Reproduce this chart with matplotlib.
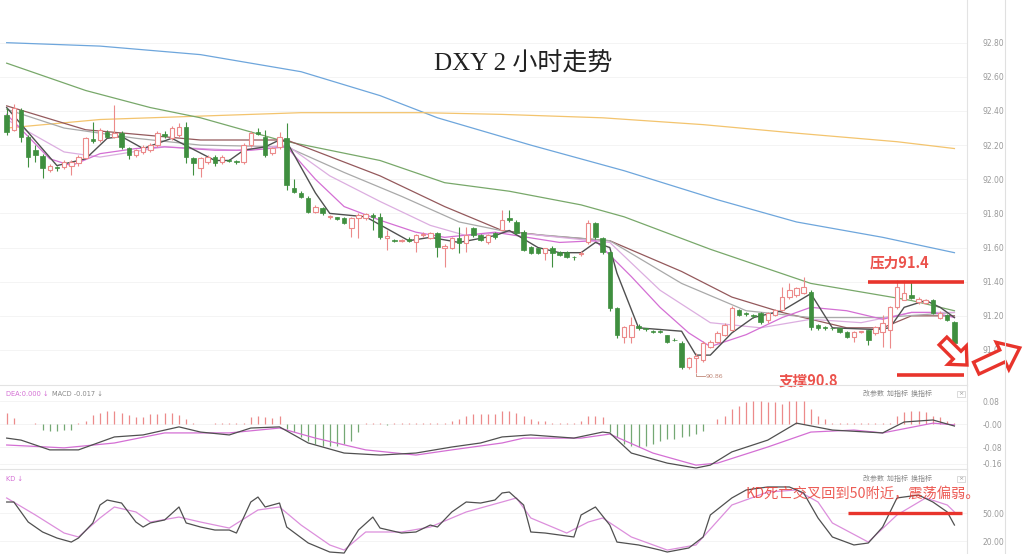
import numpy as np
import matplotlib
matplotlib.use("Agg")
import matplotlib.pyplot as plt
from matplotlib.patches import Polygon
from matplotlib.lines import Line2D

plt.rcParams['font.family'] = ['DejaVu Sans', 'Noto Sans CJK SC']

# ---- 2h candles ----
opens = [92.377, 92.289, 92.406, 92.248, 92.172, 92.136, 92.054, 92.072, 92.072, 92.078,
         92.095, 92.125, 92.236, 92.230, 92.277, 92.248, 92.271, 92.183, 92.142, 92.160,
         92.172, 92.201, 92.265, 92.242, 92.259, 92.306, 92.125, 92.066, 92.101, 92.131,
         92.101, 92.113, 92.107, 92.101, 92.201, 92.277, 92.248, 92.154, 92.189, 92.242,
         91.949, 91.920, 91.890, 91.808, 91.832, 91.779, 91.779, 91.773, 91.715, 91.773,
         91.773, 91.791, 91.779, 91.656, 91.644, 91.639, 91.650, 91.633, 91.674, 91.656,
         91.685, 91.598, 91.598, 91.656, 91.627, 91.715, 91.674, 91.633, 91.685, 91.703,
         91.773, 91.750, 91.691, 91.603, 91.598, 91.568, 91.598, 91.574, 91.574, 91.545,
         91.562, 91.633, 91.744, 91.656, 91.574, 91.246, 91.076, 91.076, 91.141, 91.129,
         91.111, 91.111, 91.088, 91.059, 91.041, 90.900, 90.953, 90.941, 91.018, 91.047,
         91.088, 91.117, 91.234, 91.217, 91.205, 91.217, 91.176, 91.205, 91.234, 91.310,
         91.322, 91.334, 91.340, 91.146, 91.135, 91.129, 91.129, 91.105, 91.076, 91.105,
         91.117, 91.100, 91.105, 91.117, 91.252, 91.293, 91.322, 91.281, 91.275, 91.293,
         91.187, 91.205, 91.164]
closes = [92.277, 92.418, 92.248, 92.131, 92.142, 92.066, 92.078, 92.066, 92.101, 92.101,
          92.131, 92.242, 92.224, 92.289, 92.248, 92.271, 92.189, 92.142, 92.172, 92.189,
          92.201, 92.271, 92.254, 92.300, 92.306, 92.131, 92.095, 92.125, 92.131, 92.095,
          92.131, 92.107, 92.101, 92.201, 92.271, 92.265, 92.142, 92.183, 92.248, 91.967,
          91.926, 91.896, 91.808, 91.838, 91.803, 91.785, 91.767, 91.744, 91.773, 91.791,
          91.797, 91.779, 91.662, 91.668, 91.639, 91.644, 91.639, 91.674, 91.680, 91.685,
          91.603, 91.609, 91.656, 91.627, 91.674, 91.674, 91.644, 91.674, 91.662, 91.762,
          91.762, 91.685, 91.586, 91.568, 91.568, 91.598, 91.568, 91.557, 91.545, 91.542,
          91.568, 91.744, 91.662, 91.574, 91.246, 91.088, 91.135, 91.146, 91.129, 91.123,
          91.108, 91.105, 91.047, 91.056, 90.900, 90.953, 90.965, 91.041, 91.047, 91.100,
          91.146, 91.246, 91.205, 91.211, 91.200, 91.164, 91.217, 91.234, 91.310, 91.351,
          91.363, 91.369, 91.135, 91.129, 91.129, 91.126, 91.105, 91.076, 91.105, 91.108,
          91.059, 91.135, 91.158, 91.252, 91.369, 91.334, 91.305, 91.299, 91.293, 91.217,
          91.217, 91.176, 91.041]
highs = [92.42, 92.44, 92.42, 92.26, 92.20, 92.15, 92.09, 92.08, 92.11, 92.11,
         92.14, 92.25, 92.336, 92.30, 92.29, 92.435, 92.28, 92.19, 92.18, 92.20,
         92.21, 92.28, 92.28, 92.31, 92.33, 92.336, 92.13, 92.13, 92.14, 92.14,
         92.14, 92.12, 92.11, 92.21, 92.28, 92.30, 92.289, 92.19, 92.277, 92.33,
         92.00, 91.93, 91.90, 91.85, 91.84, 91.79, 91.78, 91.78, 91.78, 91.80,
         91.80, 91.80, 91.80, 91.70, 91.65, 91.65, 91.66, 91.68, 91.69, 91.69,
         91.69, 91.62, 91.66, 91.721, 91.721, 91.72, 91.68, 91.68, 91.69, 91.82,
         91.82, 91.76, 91.70, 91.61, 91.60, 91.60, 91.61, 91.58, 91.58, 91.55,
         91.58, 91.76, 91.75, 91.66, 91.58, 91.25, 91.14, 91.193, 91.15, 91.13,
         91.12, 91.12, 91.09, 91.07, 91.05, 90.96, 90.98, 91.05, 91.06, 91.11,
         91.16, 91.26, 91.24, 91.22, 91.21, 91.22, 91.22, 91.24, 91.369, 91.39,
         91.37, 91.427, 91.35, 91.15, 91.14, 91.13, 91.13, 91.11, 91.11, 91.11,
         91.12, 91.14, 91.205, 91.26, 91.41, 91.41, 91.398, 91.31, 91.30, 91.30,
         91.23, 91.21, 91.17]
lows = [92.26, 92.28, 92.218, 92.072, 92.10, 92.008, 92.04, 92.05, 92.06, 92.025,
        92.08, 92.12, 92.21, 92.22, 92.24, 92.24, 92.18, 92.12, 92.13, 92.15,
        92.16, 92.19, 92.24, 92.23, 92.25, 92.095, 92.025, 92.013, 92.09, 92.08,
        92.09, 92.10, 92.09, 92.09, 92.19, 92.26, 92.13, 92.14, 92.18, 91.937,
        91.92, 91.89, 91.80, 91.80, 91.79, 91.77, 91.76, 91.74, 91.662, 91.656,
        91.76, 91.703, 91.65, 91.586, 91.63, 91.63, 91.63, 91.574, 91.66, 91.65,
        91.545, 91.486, 91.59, 91.568, 91.574, 91.66, 91.64, 91.62, 91.65, 91.70,
        91.75, 91.68, 91.58, 91.56, 91.56, 91.527, 91.486, 91.55, 91.54, 91.53,
        91.55, 91.62, 91.65, 91.56, 91.23, 91.07, 91.041, 91.041, 91.12, 91.11,
        91.10, 91.10, 91.04, 91.05, 90.89, 90.89, 90.865, 90.93, 91.01, 91.04,
        91.08, 91.11, 91.20, 91.20, 91.19, 91.15, 91.16, 91.20, 91.23, 91.30,
        91.31, 91.33, 91.12, 91.12, 91.12, 91.12, 91.10, 91.07, 91.047, 91.10,
        91.029, 91.09, 91.018, 91.012, 91.24, 91.29, 91.30, 91.27, 91.27, 91.21,
        91.18, 91.17, 91.03]

# ---- moving averages, read at candle positions ----
ma_fast_i = [0, 7, 11, 14, 16, 19, 23, 29, 31, 33, 36, 38, 39, 43, 45, 50, 56, 59, 63, 68, 70, 74, 77, 80,
             82, 84, 85, 88, 94, 96, 98, 101, 104, 108, 112, 115, 121, 123, 125, 128, 130, 132]
ma_fast = [92.42, 92.08, 92.12, 92.24, 92.25, 92.18, 92.24, 92.11, 92.11, 92.17, 92.19, 92.23, 92.22, 91.92,
           91.80, 91.78, 91.64, 91.66, 91.63, 91.67, 91.70, 91.60, 91.57, 91.57, 91.63, 91.60, 91.45, 91.13,
           91.11, 90.97, 90.97, 91.10, 91.19, 91.23, 91.33, 91.13, 91.12, 91.13, 91.25, 91.29, 91.25, 91.19]
ma_mag_i = [0, 6, 9, 13, 18, 22, 29, 34, 39, 43, 47, 52, 57, 61, 68, 71, 77, 82, 87, 91, 95, 98, 103, 108,
            112, 117, 122, 126, 129, 132]
ma_mag = [92.38, 92.12, 92.08, 92.15, 92.18, 92.19, 92.17, 92.17, 92.19, 92.00, 91.84, 91.76, 91.69, 91.66,
          91.69, 91.67, 91.63, 91.64, 91.43, 91.25, 91.10, 91.02, 91.09, 91.19, 91.25, 91.23, 91.18, 91.22,
          91.22, 91.19]
ma_vio_i = [0, 8, 13, 22, 32, 39, 45, 52, 59, 64, 70, 77, 84, 91, 98, 105, 112, 119, 126, 132]
ma_vio = [92.35, 92.16, 92.13, 92.19, 92.17, 92.20, 92.02, 91.87, 91.73, 91.67, 91.69, 91.66, 91.63, 91.35,
          91.16, 91.13, 91.18, 91.16, 91.22, 91.22]
ma_gray_i = [0, 8, 18, 27, 39, 47, 55, 63, 70, 84, 94, 103, 112, 122, 132]
ma_gray = [92.41, 92.30, 92.24, 92.20, 92.19, 92.04, 91.90, 91.75, 91.69, 91.64, 91.39, 91.23, 91.19, 91.19,
           91.22]
ma_brown_i = [0, 11, 27, 39, 52, 61, 69, 75, 84, 94, 101, 108, 117, 122, 126, 132]
ma_brown = [92.43, 92.29, 92.23, 92.23, 92.02, 91.84, 91.70, 91.67, 91.64, 91.46, 91.31, 91.22, 91.13, 91.13,
            91.20, 91.20]
ma_green_i = [0, 11, 20, 27, 38, 52, 61, 70, 80, 86, 98, 112, 126, 132]
ma_green = [92.68, 92.52, 92.42, 92.36, 92.23, 92.11, 91.98, 91.93, 91.85, 91.78, 91.59, 91.39, 91.29, 91.23]
ma_blue_i = [0, 13, 27, 41, 52, 60, 73, 86, 99, 110, 122, 132]
ma_blue = [92.80, 92.78, 92.73, 92.63, 92.49, 92.36, 92.20, 92.05, 91.88, 91.75, 91.66, 91.57]
ma_orange_i = [0, 13, 27, 41, 58, 69, 83, 97, 110, 124, 132]
ma_orange = [92.30, 92.35, 92.37, 92.39, 92.39, 92.38, 92.36, 92.32, 92.27, 92.22, 92.18]

# ---- MACD ----
macd_hist = [0.04, 0.02, 0.0, 0.0, 0.003, -0.02, -0.025, -0.025, -0.02, -0.02,
             0.003, 0.01, 0.03, 0.04, 0.046, 0.046, 0.04, 0.03, 0.025, 0.025,
             0.035, 0.035, 0.04, 0.04, 0.03, 0.017, 0.003, 0.0, 0.0, 0.003,
             0.003, 0.003, 0.003, 0.003, 0.023, 0.029, 0.023, 0.02, 0.029, -0.017,
             -0.029, -0.046, -0.058, -0.07, -0.075, -0.075, -0.075, -0.07, -0.058, -0.029,
             0.005, 0.003, 0.005, -0.005, 0.003, 0.003, 0.003, 0.002, 0.002, 0.002,
             0.002, 0.003, 0.012, 0.017, 0.029, 0.035, 0.035, 0.035, 0.035, 0.046,
             0.046, 0.040, 0.029, 0.017, 0.012, 0.012, 0.002, 0.002, 0.002, 0.002,
             0.012, 0.029, 0.029, 0.023, -0.029, -0.046, -0.07, -0.075, -0.081, -0.075,
             -0.07, -0.058, -0.052, -0.052, -0.046, -0.041, -0.035, -0.023, 0.0, 0.017,
             0.029, 0.052, 0.064, 0.075, 0.081, 0.081, 0.075, 0.075, 0.07, 0.081,
             0.081, 0.081, 0.052, 0.029, 0.017, 0.003, 0.003, 0.003, 0.003, 0.003,
             0.003, 0.003, 0.003, 0.003, 0.029, 0.041, 0.046, 0.046, 0.041, 0.029,
             0.023, 0.012, 0.003]
dif_i = [0, 2, 6, 10, 15, 19, 24, 27, 31, 34, 38, 42, 47, 52, 57, 62, 66, 69, 73, 79, 83, 84, 87, 92, 96,
         98, 101, 106, 110, 115, 122, 125, 129, 132]
dif = [-0.049, -0.056, -0.090, -0.090, -0.045, -0.038, -0.010, -0.028, -0.038, -0.014, -0.010, -0.066,
       -0.101, -0.108, -0.101, -0.080, -0.066, -0.045, -0.038, -0.049, -0.028, -0.031, -0.101, -0.136,
       -0.153, -0.143, -0.097, -0.056, 0.003, -0.021, -0.031, 0.007, 0.014, -0.007]
dea_i = [0, 8, 15, 22, 27, 31, 38, 43, 50, 57, 62, 69, 72, 80, 84, 90, 96, 99, 106, 112, 118, 122, 129, 132]
dea = [-0.073, -0.083, -0.066, -0.031, -0.031, -0.031, -0.014, -0.049, -0.090, -0.108, -0.090, -0.066,
       -0.049, -0.049, -0.035, -0.101, -0.143, -0.136, -0.080, -0.028, -0.021, -0.031, 0.003, -0.003]
macd_ticks = [0.08, 0.0, -0.08, -0.139]
macd_labels = ['0.08', '-0.00', '-0.08', '-0.16']

# ---- KD ----
k_i = [0, 1, 3, 5, 7, 9, 10, 12, 13, 14, 16, 18, 19, 20, 22, 24, 25, 27, 29, 31, 32, 34, 35, 36, 38, 39,
       42, 45, 47, 49, 51, 52, 55, 57, 59, 60, 62, 64, 66, 68, 69, 70, 72, 73, 75, 79, 80, 82, 84, 85,
       88, 91, 92, 95, 97, 98, 101, 103, 106, 109, 111, 113, 115, 118, 120, 122, 124, 127, 129, 131, 132]
k_val = [61.7, 61.7, 40.4, 29.8, 23.4, 19.1, 23.4, 39.4, 58.5, 63.8, 60.6, 40.4, 35.1, 39.4, 42.6, 56.4,
         39.4, 35.1, 31.9, 31.9, 28.7, 61.7, 67.0, 56.4, 60.6, 35.1, 18.1, 8.5, 7.4, 31.9, 45.7, 34.0,
         28.7, 29.8, 37.2, 35.1, 51.1, 61.7, 60.6, 63.8, 71.3, 72.3, 58.5, 29.8, 28.7, 24.5, 47.9, 56.4,
         37.2, 19.1, 16.0, 10.6, 8.5, 12.8, 24.5, 47.9, 66.0, 74.5, 77.7, 77.7, 71.3, 44.7, 24.5, 16.0,
         18.1, 35.1, 66.0, 69.1, 61.7, 51.1, 37.2]
d_i = [0, 4, 8, 10, 13, 15, 18, 20, 24, 27, 31, 35, 38, 41, 45, 47, 50, 55, 59, 64, 69, 71, 73, 78, 81,
       83, 87, 92, 96, 101, 106, 110, 113, 115, 120, 124, 128, 131, 132]
d_val = [66.0, 47.9, 28.7, 24.5, 44.7, 56.4, 51.1, 40.4, 45.7, 40.4, 34.0, 53.2, 56.4, 37.2, 16.0, 10.6,
         29.8, 29.8, 35.1, 51.1, 61.7, 66.0, 44.7, 28.7, 40.4, 44.7, 24.5, 10.6, 16.0, 58.5, 72.3, 74.5,
         61.7, 39.4, 19.1, 47.9, 66.0, 58.5, 51.1]

price_ticks = [92.8, 92.6, 92.4, 92.2, 92.0, 91.8, 91.6, 91.4, 91.2, 91.0]
resistance = 91.4
support_line = 90.855
low_mark = 90.86

UP = '#ec8a8a'
DOWN = '#3f8f3f'
RED = '#e8342c'
W, H = 1024, 554

fig = plt.figure(figsize=(W / 100, H / 100), dpi=100)


def panel(top, bottom):
    return fig.add_axes([0, 1 - bottom / H, 967 / W, (bottom - top) / H])


ax = panel(0, 385)
axm = panel(385, 469)
axk = panel(469, 554)

n = len(opens)
idx = np.arange(n)
o = np.array(opens)
c = np.array(closes)
up = c >= o
xlim = (-0.93, 133.75)

for a in (ax, axm, axk):
    a.set_xlim(*xlim)
    a.set_xticks([])
    a.yaxis.tick_right()
    a.tick_params(axis='y', length=0, pad=11, labelsize=5.5, labelcolor='#9a9a9a')
    for s in ('left', 'bottom'):
        a.spines[s].set_visible(False)
    a.spines['right'].set_color('#e3e3e3')
    a.spines['top'].set_color('#e3e3e3')
    a.grid(axis='y', color='#f3f3f3', lw=0.6)
    a.patch.set_alpha(0)
ax.spines['top'].set_visible(False)

# main panel
ax.set_ylim(90.795, 93.05)
ax.set_yticks(price_ticks)
ax.set_yticklabels(['%.2f' % v for v in price_ticks])

ax.plot(ma_blue_i, ma_blue, color='#6ea6dc', lw=0.9)
ax.plot(ma_orange_i, ma_orange, color='#f3c46e', lw=0.9)
ax.plot(ma_green_i, ma_green, color='#78a86a', lw=0.9)
ax.plot(ma_brown_i, ma_brown, color='#94595c', lw=0.9)
ax.plot(ma_gray_i, ma_gray, color='#a9a9a9', lw=0.9)
ax.plot(ma_vio_i, ma_vio, color='#dcaee0', lw=0.9)
ax.plot(ma_mag_i, ma_mag, color='#d46fd4', lw=0.9)
ax.plot(ma_fast_i, ma_fast, color='#505050', lw=1.0)

wick_colors = [UP if u else DOWN for u in up]
ax.vlines(idx, lows, highs, colors=wick_colors, lw=0.8, zorder=3)
body = np.maximum(np.abs(c - o), 0.005)
bottom = np.minimum(o, c)
ax.bar(idx[up], body[up], bottom=bottom[up], width=0.62, facecolor='white',
       edgecolor=UP, lw=0.8, zorder=4)
ax.bar(idx[~up], body[~up], bottom=bottom[~up], width=0.62, facecolor=DOWN,
       edgecolor=DOWN, lw=0.5, zorder=4)

ax.hlines(resistance, 120.0, 133.3, color=RED, lw=2.6, zorder=6)
ax.hlines(support_line, 124.0, 133.3, color=RED, lw=2.6, zorder=6)
ax.text(124.4, resistance + 0.11, '压力91.4', color=RED, fontsize=10.5, fontweight='bold',
        family=['Noto Sans CJK SC'], ha='center', va='center', alpha=0.85)
ax.text(111.6, 90.82, '支撑90.8', color=RED, fontsize=10.5, fontweight='bold',
        family=['Noto Sans CJK SC'], ha='center', va='center', alpha=0.85, clip_on=False, zorder=20)
ax.plot([96, 96, 97.2], [low_mark, low_mark - 0.015, low_mark - 0.015], color='#c08878', lw=0.6)
ax.text(97.4, low_mark - 0.015, '90.86', color='#c08878', fontsize=4.5, va='center')

# MACD panel
axm.set_ylim(-0.1565, 0.1357)
axm.set_yticks(macd_ticks)
axm.set_yticklabels(macd_labels)
hist = np.array(macd_hist)
axm.vlines(idx, 0, hist, colors=[UP if v >= 0 else '#74a874' for v in hist], lw=0.9)
axm.plot(dea_i, dea, color='#d46fd4', lw=0.9)
axm.plot(dif_i, dif, color='#505050', lw=0.9)

# KD panel
axk.set_ylim(6.4, 96.8)
axk.set_yticks([50, 20])
axk.set_yticklabels(['50.00', '20.00'])
axk.plot(d_i, d_val, color='#dc8fdc', lw=0.9)
axk.plot(k_i, k_val, color='#505050', lw=0.9)
axk.hlines(50, 117.2, 133.0, color=RED, lw=2.4, zorder=6)
axk.text(119.2, 70.5, 'KD死亡交叉回到50附近，震荡偏弱。', color=RED, fontsize=10.3,
         family=['Noto Sans CJK SC'], ha='center', va='center', alpha=0.8)

# headers, buttons, title
fig.text(523 / W, 1 - 64 / H, 'DXY 2 小时走势', fontsize=18, color='#222222',
         family=['Liberation Serif', 'Noto Sans CJK SC'], ha='center', va='center')
fig.text(6 / W, 1 - 394 / H, 'DEA:0.000 ↓', fontsize=4.8, color='#d46fd4', va='center')
fig.text(52 / W, 1 - 394 / H, 'MACD -0.017 ↓', fontsize=4.8, color='#888888', va='center')
fig.text(6 / W, 1 - 479 / H, 'KD ↓', fontsize=4.8, color='#d46fd4', va='center')
for yb in (394, 479):
    fig.text(863 / W, 1 - yb / H, '改参数  加指标  换指标', fontsize=5.0, color='#888888',
             family=['Noto Sans CJK SC'], va='center')
    fig.text(961 / W, 1 - yb / H, '×', fontsize=4.5, color='#999999', ha='center', va='center',
             bbox=dict(boxstyle='square,pad=0.15', fc='white', ec='#cccccc', lw=0.5))

# overlay in pixel units for the hand-drawn arrows and outer border
ov = fig.add_axes([0, 0, 1, 1], zorder=10)
ov.set_xlim(0, W)
ov.set_ylim(H, 0)
ov.axis('off')
ov.patch.set_alpha(0)
ov.add_line(Line2D([1005, 1005], [0, H], color='#e0e0e0', lw=0.8))


def block_arrow(cx, cy, length, width, head_w, head_l, angle):
    L, w, hw, hl = length / 2, width / 2, head_w / 2, head_l
    pts = np.array([(-L, -w), (L - hl, -w), (L - hl, -hw), (L, 0), (L - hl, hw), (L - hl, w), (-L, w)])
    t = np.radians(angle)
    rot = np.array([[np.cos(t), -np.sin(t)], [np.sin(t), np.cos(t)]])
    return Polygon(pts @ rot.T + [cx, cy], closed=True, fc='white', ec=RED, lw=2.4, joinstyle='miter')


ov.add_patch(block_arrow(955, 353, 34, 11, 26, 14, 45))
ov.add_patch(block_arrow(998, 358, 48, 13, 30, 19, -25))

fig.savefig('out.png', dpi=100)
